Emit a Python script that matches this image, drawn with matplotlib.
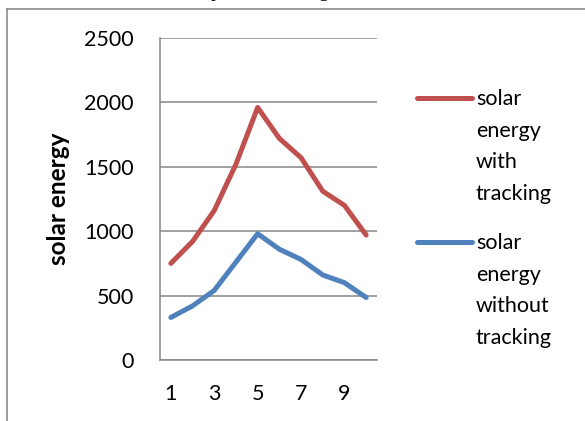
import matplotlib.pyplot as plt
from matplotlib.lines import Line2D

plt.rcParams['font.family'] = ['Lato', 'DejaVu Sans']

months = [1, 2, 3, 4, 5, 6, 7, 8, 9, 10]
with_tracking = [750, 920, 1160, 1520, 1960, 1720, 1570, 1310, 1200, 970]
without_tracking = [330, 420, 540, 760, 980, 860, 780, 660, 600, 485]
series_labels = ['solar\nenergy\nwith\ntracking', 'solar\nenergy\nwithout\ntracking']
series_colors = ['#C0504D', '#4F81BD']
y_ticks = [0, 500, 1000, 1500, 2000, 2500]
x_tick_labels = ['1', '3', '5', '7', '9']

W, H = 585, 421
fig = plt.figure(figsize=(W / 100, H / 100), dpi=100)

# chart frame (top and left edges of the embedded object)
fig.add_artist(Line2D([7 / W, 7 / W], [0, 1 - 9 / H], color='#8c8c8c', lw=1.2))
fig.add_artist(Line2D([7 / W, 1], [1 - 9 / H, 1 - 9 / H], color='#8c8c8c', lw=1.2))

# descenders of the caption line above the chart
fig.text(215 / W, 1 + 3 / H, 'p', family='Liberation Serif', fontsize=14,
         ha='center', va='baseline')
fig.text(323 / W, 1 + 3 / H, 'g', family='Liberation Serif', fontsize=14,
         ha='center', va='baseline')

ax = fig.add_axes([160 / W, 61 / H, 217 / W, 322.1 / H])
for vals, col in zip([with_tracking, without_tracking], series_colors):
    ax.plot(months, vals, color=col, lw=3.6, solid_capstyle='round',
            solid_joinstyle='round')

ax.set_xlim(0.5, 10.5)
ax.set_ylim(0, 2500)
ax.set_yticks(y_ticks)
ax.set_xticks([int(t) for t in x_tick_labels])
ax.set_xticklabels(x_tick_labels)
ax.tick_params(length=0, labelsize=15.5)
ax.tick_params(axis='y', pad=19)
ax.tick_params(axis='x', pad=17)
ax.grid(axis='y', color='#868686', lw=1.1)
ax.set_axisbelow(True)
for s in ['top', 'right']:
    ax.spines[s].set_visible(False)
for s in ['left', 'bottom']:
    ax.spines[s].set_color('#868686')
    ax.spines[s].set_linewidth(1.1)

fig.text(58 / W, 1 - 199 / H, 'solar energy', rotation=90, fontsize=17.5,
         fontweight='bold', ha='center', va='center')

# legend drawn by hand so the key sits on the first line of each label
legend_tops = [98, 242]
for lab, col, yt in zip(series_labels, series_colors, legend_tops):
    y = 1 - yt / H
    fig.add_artist(Line2D([417 / W, 472 / W], [y, y], color=col, lw=3.6,
                          solid_capstyle='round'))
    fig.text(476 / W, y + 9 / H, lab, fontsize=15.5, ha='left', va='top',
             linespacing=1.72)

fig.savefig('out.png', dpi=100)
